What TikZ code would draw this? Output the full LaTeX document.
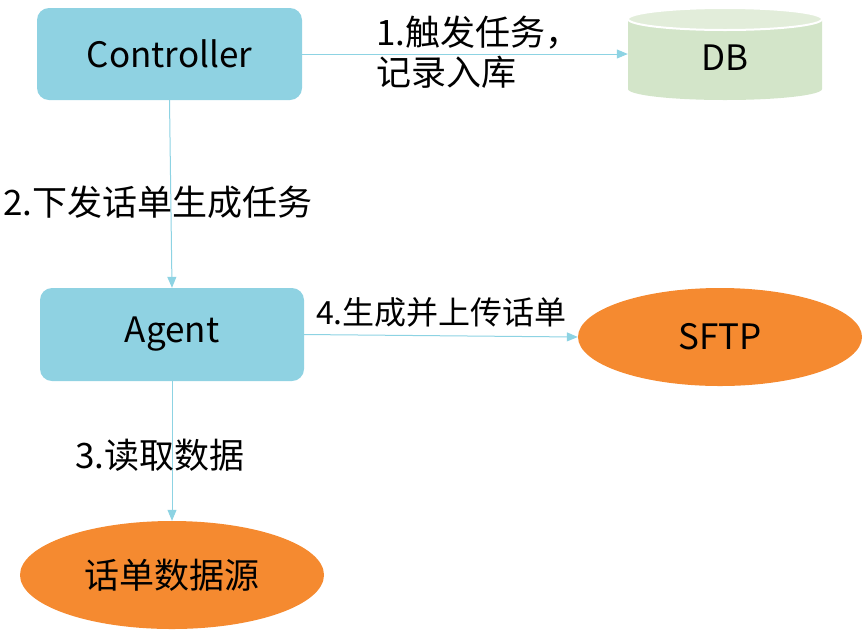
\documentclass[tikz,border=0pt]{standalone}
\usepackage{fontspec}
\setmainfont{Noto Sans CJK SC}
\usetikzlibrary{arrows.meta,shapes.geometric}
\definecolor{boxblue}{HTML}{8FD2E2}
\definecolor{arrowblue}{HTML}{8DD3E3}
\definecolor{orangef}{HTML}{F58A30}
\definecolor{dbbody}{HTML}{D3E5C9}
\definecolor{dbtop}{HTML}{E2EDDA}
\tikzset{
  procbox/.style={draw=none,fill=boxblue,rounded corners=12pt,inner sep=0pt,font=\fontsize{35}{40}\selectfont},
  oval/.style={ellipse,draw=none,fill=orangef,inner sep=0pt,font=\fontsize{35}{40}\selectfont},
  conn/.style={draw=arrowblue,line width=1pt,-{Triangle[length=11pt,width=9pt]}},
  lbl/.style={inner sep=0pt,font=\fontsize{35}{40}\selectfont,align=left}
}
\begin{document}
\begin{tikzpicture}[x=1pt,y=-1pt]
\useasboundingbox (0,0) rectangle (866,630);
% nodes
\node[procbox,minimum width=265pt,minimum height=92pt] (ctrl) at (169.5,54) {Controller};
\node[procbox,minimum width=264pt,minimum height=93pt] (agent) at (172,334.5) {Agent};
\node[oval,minimum width=284pt,minimum height=98pt] (sftp) at (720,337) {SFTP};
\node[oval,minimum width=304pt,minimum height=108pt] (src) at (172,575) {话单数据源};
% DB cylinder
\fill[dbbody] (628,19) -- (628,89) arc[start angle=180,end angle=360,x radius=97,y radius=-11] -- (822,19) -- cycle;
\draw[white,line width=2pt,fill=dbtop] (725,19) ellipse[x radius=97,y radius=11];
\node[inner sep=0pt,minimum width=194pt,minimum height=92pt,font=\fontsize{35}{40}\selectfont] (db) at (725,58) {DB};
% connectors
\draw[conn] (ctrl.east) -- (db.west |- ctrl.east);
\draw[conn] (ctrl.south) -- (agent.north);
\draw[conn] (agent.east) -- (sftp.west);
\draw[conn] (agent.south) -- (src.north);
% labels
\node[lbl,anchor=west] (l1) at (376,52) {1.触发任务，\\记录入库};
\node[lbl,anchor=west] (l2) at (3,202) {2.下发话单生成任务};
\node[lbl,anchor=west,font=\fontsize{32}{38}\selectfont] (l4) at (316,312) {4.生成并上传话单};
\node[lbl,anchor=west] (l3) at (75,455) {3.读取数据};
\end{tikzpicture}
\end{document}
